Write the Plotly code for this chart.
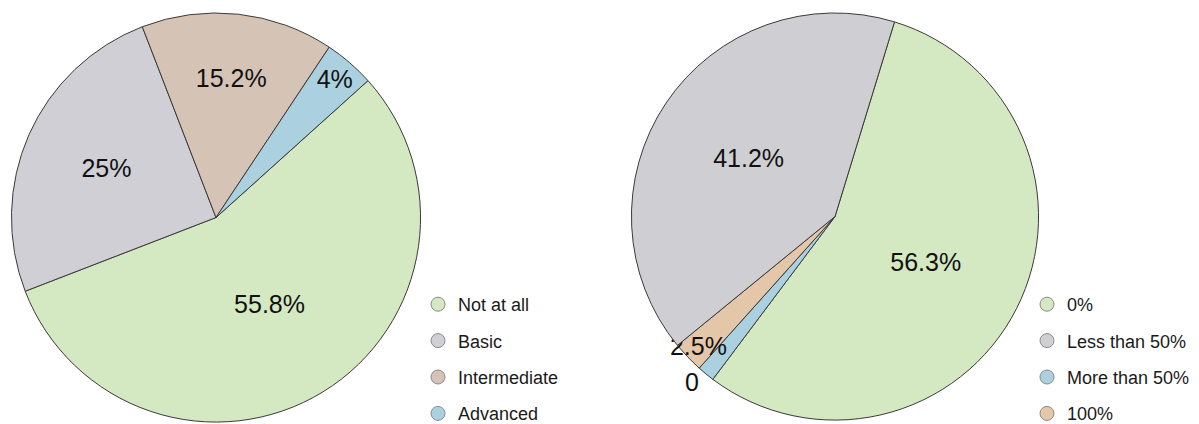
import plotly.graph_objects as go

# ---- data ----
left_labels = ["Not at all", "Basic", "Intermediate", "Advanced"]
left_values = [55.8, 25, 15.2, 4]
left_text = ["55.8%", "25%", "15.2%", "4%"]
left_colors = ["#d4e8c2", "#d0cfd5", "#d5c4b5", "#abd1e1"]

# right pie, in clockwise drawing order
right_labels = ["0%", "More than 50%", "100%", "Less than 50%"]
right_values = [56.3, 1.4, 2.5, 41.2]
right_text = ["56.3%", "0", "2.5%", "41.2%"]
right_colors = ["#d4e8c2", "#abd1e1", "#e4c6a8", "#cfced3"]
right_legend_order = ["0%", "Less than 50%", "More than 50%", "100%"]

W, H = 1199, 424
OFF = 8  # page body margin offset
FONT = "Arial, Liberation Sans, Helvetica, sans-serif"


def dom_x(a, b):
    return [(a - OFF) / W, (b - OFF) / W]


def dom_y(top, bottom):
    return [1 - (bottom - OFF) / H, 1 - (top - OFF) / H]


fig = go.Figure()

fig.add_trace(go.Pie(
    labels=left_labels, values=left_values, text=left_text,
    textinfo="text", textposition="inside", insidetextorientation="horizontal",
    marker=dict(colors=left_colors, line=dict(color="#3a3a3a", width=1)),
    textfont=dict(size=27, color="#111", family=FONT),
    sort=False, direction="clockwise", rotation=48,
    domain=dict(x=dom_x(10, 422), y=dom_y(10, 422)),
    showlegend=False, hoverinfo="label+percent",
))

right_textpos = ["outside" if t == "0" else "inside" for t in right_text]
fig.add_trace(go.Pie(
    labels=right_labels, values=right_values, text=right_text,
    textinfo="text", textposition=right_textpos, insidetextorientation="horizontal",
    marker=dict(colors=right_colors, line=dict(color="#3a3a3a", width=1)),
    textfont=dict(size=27, color="#111", family=FONT),
    outsidetextfont=dict(size=18, color="#111", family=FONT),
    sort=False, direction="clockwise", rotation=17,
    domain=dict(x=dom_x(630, 1040), y=dom_y(10, 420)),
    showlegend=False, hoverinfo="label+percent",
))

# legend entries (circle markers)
for lab, col in zip(left_labels, left_colors):
    fig.add_trace(go.Scatter(
        x=[None], y=[None], mode="markers", name=lab, legend="legend",
        legendgroup="L" + lab, showlegend=True,
        marker=dict(symbol="circle", size=14, color=col, line=dict(color="#8a8a8a", width=1)),
    ))
for lab in right_legend_order:
    col = right_colors[right_labels.index(lab)]
    fig.add_trace(go.Scatter(
        x=[None], y=[None], mode="markers", name=lab, legend="legend2",
        legendgroup="R" + lab, showlegend=True,
        marker=dict(symbol="circle", size=14, color=col, line=dict(color="#8a8a8a", width=1)),
    ))

legend_common = dict(
    xanchor="left", yanchor="bottom", y=0, traceorder="grouped", tracegroupgap=10,
    font=dict(size=18, color="#1a1a1a", family=FONT), bgcolor="rgba(0,0,0,0)",
    itemclick=False, itemdoubleclick=False,
)

fig.update_layout(
    width=W, height=H,
    margin=dict(l=0, r=0, t=0, b=0),
    paper_bgcolor="white", plot_bgcolor="white",
    xaxis=dict(visible=False), yaxis=dict(visible=False),
    uniformtext=dict(minsize=25, mode="show"),
    legend=dict(x=(438 - OFF - 20) / W, **legend_common),
    legend2=dict(x=(1047 - OFF - 20) / W, **legend_common),
)

fig.write_html("out.html")
